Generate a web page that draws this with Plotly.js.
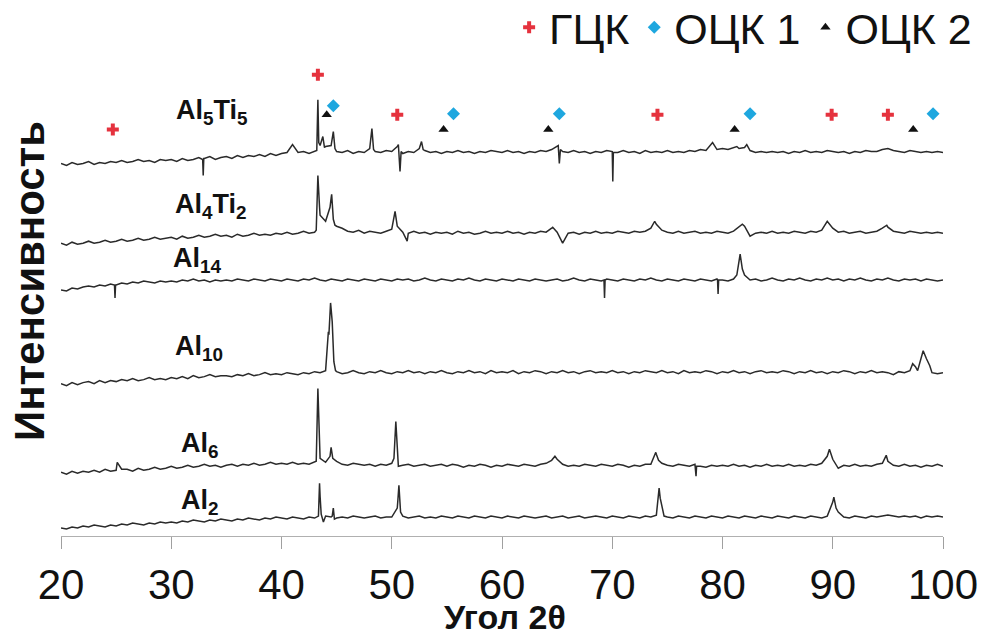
<!DOCTYPE html>
<html>
<head>
<meta charset="utf-8">
<script src="https://cdn.plot.ly/plotly-3.0.1.min.js"></script>
<style>html,body{margin:0;padding:0;background:#fff;}#chart{width:985px;height:637px;}</style>
</head>
<body>
<div id="chart"></div>
<script>
// Scan angles (2θ, degrees), 0.5° step
const angle = [20,20.5,21,21.5,22,22.5,23,23.5,24,24.5,25,25.5,26,26.5,27,27.5,28,28.5,29,29.5,
30,30.5,31,31.5,32,32.5,33,33.5,34,34.5,35,35.5,36,36.5,37,37.5,38,38.5,39,39.5,
40,40.5,41,41.5,42,42.5,43,43.5,44,44.5,45,45.5,46,46.5,47,47.5,48,48.5,49,49.5,
50,50.5,51,51.5,52,52.5,53,53.5,54,54.5,55,55.5,56,56.5,57,57.5,58,58.5,59,59.5,
60,60.5,61,61.5,62,62.5,63,63.5,64,64.5,65,65.5,66,66.5,67,67.5,68,68.5,69,69.5,
70,70.5,71,71.5,72,72.5,73,73.5,74,74.5,75,75.5,76,76.5,77,77.5,78,78.5,79,79.5,
80,80.5,81,81.5,82,82.5,83,83.5,84,84.5,85,85.5,86,86.5,87,87.5,88,88.5,89,89.5,
90,90.5,91,91.5,92,92.5,93,93.5,94,94.5,95,95.5,96,96.5,97,97.5,98,98.5,99,99.5,100];

// Stacked intensities (arbitrary units, offset included)
const al5ti5Bg = [374,372,375,373,374,376,373,375,374,376,375,377,375,376,378,376,377,375,378,377,
378,376,379,377,378,380,379,381,378,380,381,379,382,380,382,381,383,381,384,382,
384,385,393,385,386,384,386,392,391,392,386,385,387,384,386,385,389,386,385,387,
386,391,384,386,385,389,387,385,386,384,386,385,387,385,386,384,386,385,387,386,
385,387,385,386,384,386,385,387,386,388,391,386,385,387,385,386,384,386,385,387,
386,385,387,385,386,384,387,385,386,385,387,385,386,385,387,386,388,387,393,388,
389,388,390,389,390,387,385,386,385,386,385,386,384,386,385,387,385,386,385,387,
386,385,386,384,386,385,387,386,386,388,389,387,386,385,387,386,385,386,385,386,385];
const al5ti5PeakX = [32.85,32.9,32.95,43.2,43.3,43.38,43.75,43.9,44.7,44.85,48.2,48.35,50.6,50.75,50.85,52.7,52.85,65.1,65.2,65.3,70.05,70.1,79.1,81.3,82.2];
const al5ti5PeakY = [378,362,379,387,438,395,401,390,406,389,409,388,393,366,386,396,388,392,374,388,356,385,395,391,393];

const al4ti2Bg = [294,292,295,293,294,296,294,295,297,295,296,298,296,297,299,297,298,300,298,299,
300,298,301,299,300,302,300,301,303,301,302,300,303,301,302,304,302,303,302,304,
303,305,303,304,306,304,305,322,316,339,311,309,306,305,307,304,306,305,304,306,
308,311,305,304,306,304,305,303,305,304,305,303,306,304,305,303,304,306,304,305,
304,306,304,305,303,305,304,306,305,309,305,294,304,305,303,305,304,306,304,305,
304,306,305,304,306,305,306,309,313,307,305,304,306,304,305,306,304,305,304,306,
305,304,306,310,311,301,304,305,304,306,304,305,304,306,305,304,306,305,307,316,
309,305,306,304,305,306,304,305,306,309,310,306,305,304,306,305,304,305,304,305,304];
const al4ti2PeakX = [43.15,43.3,43.45,44.4,44.55,44.7,44.85,50.3,50.45,51.4,64.6,73.85,81.8,94.9];
const al4ti2PeakY = [307,362,330,330,343,318,312,326,314,296,310,316,313,312];

const al14Bg = [247,246,249,248,250,251,250,252,251,253,252,254,253,255,254,256,255,254,256,255,
256,255,257,256,258,256,257,255,257,256,257,256,258,257,256,258,257,256,258,257,
256,258,257,256,258,257,259,257,256,258,257,256,258,257,256,258,257,256,258,257,
256,258,257,258,256,257,259,257,256,258,257,256,258,257,259,257,256,258,257,256,
258,257,256,258,257,256,258,257,256,257,258,256,257,259,257,256,258,257,256,258,
257,256,258,257,256,258,257,259,257,256,258,257,256,258,257,256,258,257,256,258,
257,256,258,276,262,257,258,256,257,259,257,256,258,257,259,257,256,258,257,259,
257,258,256,258,257,259,257,256,258,257,259,257,256,258,257,258,256,258,257,256,257];
const al14PeakX = [24.85,24.9,24.95,69.25,69.3,69.35,79.55,79.6,79.65,81.3,81.6,81.8];
const al14PeakY = [252,239,252,257,239,257,257,243,257,262,283,268];

const al10Bg = [153,151,154,152,154,155,153,156,154,156,155,157,156,158,156,157,159,157,158,157,
159,158,160,158,161,159,160,162,160,161,161,160,162,161,163,161,162,164,162,163,
162,164,163,162,164,163,165,164,166,228,165,163,164,166,164,163,165,164,166,164,
163,165,164,166,164,165,163,165,164,166,164,163,165,164,166,164,165,163,166,164,
165,164,166,163,165,164,166,165,163,165,164,166,164,165,163,165,166,164,165,164,
166,164,165,163,165,164,166,165,164,166,164,165,163,166,164,165,164,166,165,163,
165,164,166,164,165,163,165,166,164,165,164,166,165,163,165,164,166,164,165,163,
165,164,166,165,163,165,164,166,164,165,164,162,165,164,166,170,178,178,164,163,164];
const al10PeakX = [44.15,44.25,44.3,44.45,44.6,44.75,44.9,97.25,97.7,98.2,98.8];
const al10PeakY = [185,205,202,234,215,175,166,173,166,186,171];

const al6Bg = [64,62,65,63,65,64,66,64,67,65,66,67,67,65,68,66,67,69,67,68,
70,68,69,71,69,70,72,70,71,69,71,72,70,72,71,73,71,72,74,72,
73,72,74,72,73,72,74,78,74,89,75,72,71,73,72,71,72,70,72,71,
73,82,71,72,70,71,72,70,71,72,70,72,71,69,71,70,72,71,69,71,
70,72,71,70,72,71,70,72,73,76,77,72,70,71,70,72,71,70,72,71,
70,72,71,69,71,70,72,72,82,73,71,70,72,71,70,72,70,69,71,70,
71,70,72,70,71,69,71,70,72,70,71,70,72,70,71,70,72,71,73,80,
77,68,71,70,72,70,71,70,72,73,75,71,70,72,70,71,69,71,70,72,70];
const al6PeakX = [25.1,43.15,43.3,43.42,44.4,44.65,50.2,50.37,50.6,64.8,73.95,74.2,77.6,77.65,89.7,94.85];
const al6PeakY = [74,75,148,90,80,78,78,115,70,80,84,76,60,70,87,81];

const al2Bg = [8,7,9,8,10,9,11,10,9,11,10,12,11,13,12,11,13,12,14,13,
14,13,15,14,16,15,14,16,15,17,16,15,17,16,18,17,16,18,17,19,
18,17,19,18,17,19,18,40,20,19,18,19,18,20,19,18,19,20,18,19,
19,28,20,18,19,20,18,19,18,20,19,18,20,19,18,20,19,18,20,19,
18,20,19,18,20,19,18,19,20,18,19,20,18,19,20,18,19,20,19,18,
20,19,18,20,19,18,20,19,21,30,19,18,20,19,18,20,19,18,20,19,
18,20,19,18,20,19,18,20,19,18,20,19,18,20,19,18,20,19,18,20,
34,24,19,18,20,19,18,20,19,20,21,20,19,20,19,20,18,20,19,20,19];
const al2PeakX = [43.35,43.45,43.6,43.8,44.6,44.7,44.8,50.55,50.65,50.8,74.25,74.35,74.7,90.1,90.3];
const al2PeakY = [20,53,22,14,20,28,17,35,51,24,48,38,20,39,28];

// Phase markers
const fccX = [24.7,43.3,50.5,74.1,89.9,95.0];
const fccY = [408,463,423,423,423,423];
const bcc1X = [44.7,55.6,65.2,82.5,99.1];
const bcc1Y = [432,424,424,424,424];
const bcc2X = [44.1,54.7,64.2,81.1,97.3];
const bcc2Y = [423,408,408,408,408];
const phaseNames = ['ГЦК','ОЦК 1','ОЦК 2'];

// Sample labels
const sampleLabels = ['Al<sub>5</sub>Ti<sub>5</sub>','Al<sub>4</sub>Ti<sub>2</sub>','Al<sub>14</sub>','Al<sub>10</sub>','Al<sub>6</sub>','Al<sub>2</sub>'];
const labelX = [33.7,33.6,32.4,32.5,32.6,32.6];
const labelY = [426,331,277,189,91,34];

function merge(bg, px, py) {
  const pts = angle.map((a, i) => [a, bg[i]]).concat(px.map((a, i) => [a, py[i]]));
  pts.sort((p, q) => p[0] - q[0]);
  return {x: pts.map(p => p[0]), y: pts.map(p => p[1])};
}

const series = [
  [al5ti5Bg, al5ti5PeakX, al5ti5PeakY],
  [al4ti2Bg, al4ti2PeakX, al4ti2PeakY],
  [al14Bg, al14PeakX, al14PeakY],
  [al10Bg, al10PeakX, al10PeakY],
  [al6Bg, al6PeakX, al6PeakY],
  [al2Bg, al2PeakX, al2PeakY]
];

const traces = series.map(s => {
  const m = merge(s[0], s[1], s[2]);
  return {x: m.x, y: m.y, type: 'scatter', mode: 'lines', showlegend: false,
    line: {color: '#2a2a2a', width: 1.5}, hoverinfo: 'skip'};
});

traces.push({x: fccX, y: fccY, type: 'scatter', mode: 'markers', name: phaseNames[0],
  marker: {symbol: 'cross', size: 10, color: '#e5323e'}});
traces.push({x: bcc1X, y: bcc1Y, type: 'scatter', mode: 'markers', name: phaseNames[1],
  marker: {symbol: 'diamond', size: 10, color: '#1ea7df'}});
traces.push({x: bcc2X, y: bcc2Y, type: 'scatter', mode: 'markers', name: phaseNames[2],
  marker: {symbol: 'triangle-up', size: 9, color: '#111111'}});

const annotations = sampleLabels.map((t, i) => ({
  text: '<b>' + t + '</b>', x: labelX[i], y: labelY[i], xref: 'x', yref: 'y', showarrow: false,
  font: {family: 'Liberation Sans, Arial, sans-serif', size: 27, color: '#111'},
  xanchor: 'center', yanchor: 'middle'
}));

annotations.push({text: '<b>Интенсивность</b>', xref: 'paper', yref: 'paper', x: -0.035, y: 0.538,
  textangle: -90, showarrow: false, xanchor: 'center', yanchor: 'middle',
  font: {family: 'Liberation Sans, Arial, sans-serif', size: 42, color: '#111'}});
annotations.push({text: '<b>Угол 2θ</b>', xref: 'paper', yref: 'paper', x: 0.503, y: -0.171,
  showarrow: false, xanchor: 'center', yanchor: 'middle',
  font: {family: 'Liberation Sans, Arial, sans-serif', size: 34, color: '#111'}});

const layout = {
  width: 985, height: 637,
  margin: {l: 61, r: 42, t: 60, b: 101},
  paper_bgcolor: '#fff', plot_bgcolor: '#fff',
  showlegend: true,
  legend: {orientation: 'h', xref: 'container', yref: 'container', x: 0.992, xanchor: 'right',
    y: 0.957, yanchor: 'middle',
    font: {family: 'Liberation Sans, Arial, sans-serif', size: 43, color: '#111'},
    bgcolor: 'rgba(0,0,0,0)', itemwidth: 30},
  xaxis: {range: [20, 100], dtick: 10, tick0: 20, ticks: 'outside', ticklen: 12, tickcolor: '#a0a0a0',
    showline: true, linecolor: '#b0b0b0', linewidth: 1, showgrid: false, zeroline: false,
    automargin: false,
    tickfont: {family: 'Liberation Sans, Arial, sans-serif', size: 42, color: '#111'}},
  yaxis: {range: [0, 476], visible: false, showgrid: false, zeroline: false, automargin: false},
  annotations: annotations
};

Plotly.newPlot('chart', traces, layout, {displayModeBar: false, staticPlot: true});
</script>
</body>
</html>
